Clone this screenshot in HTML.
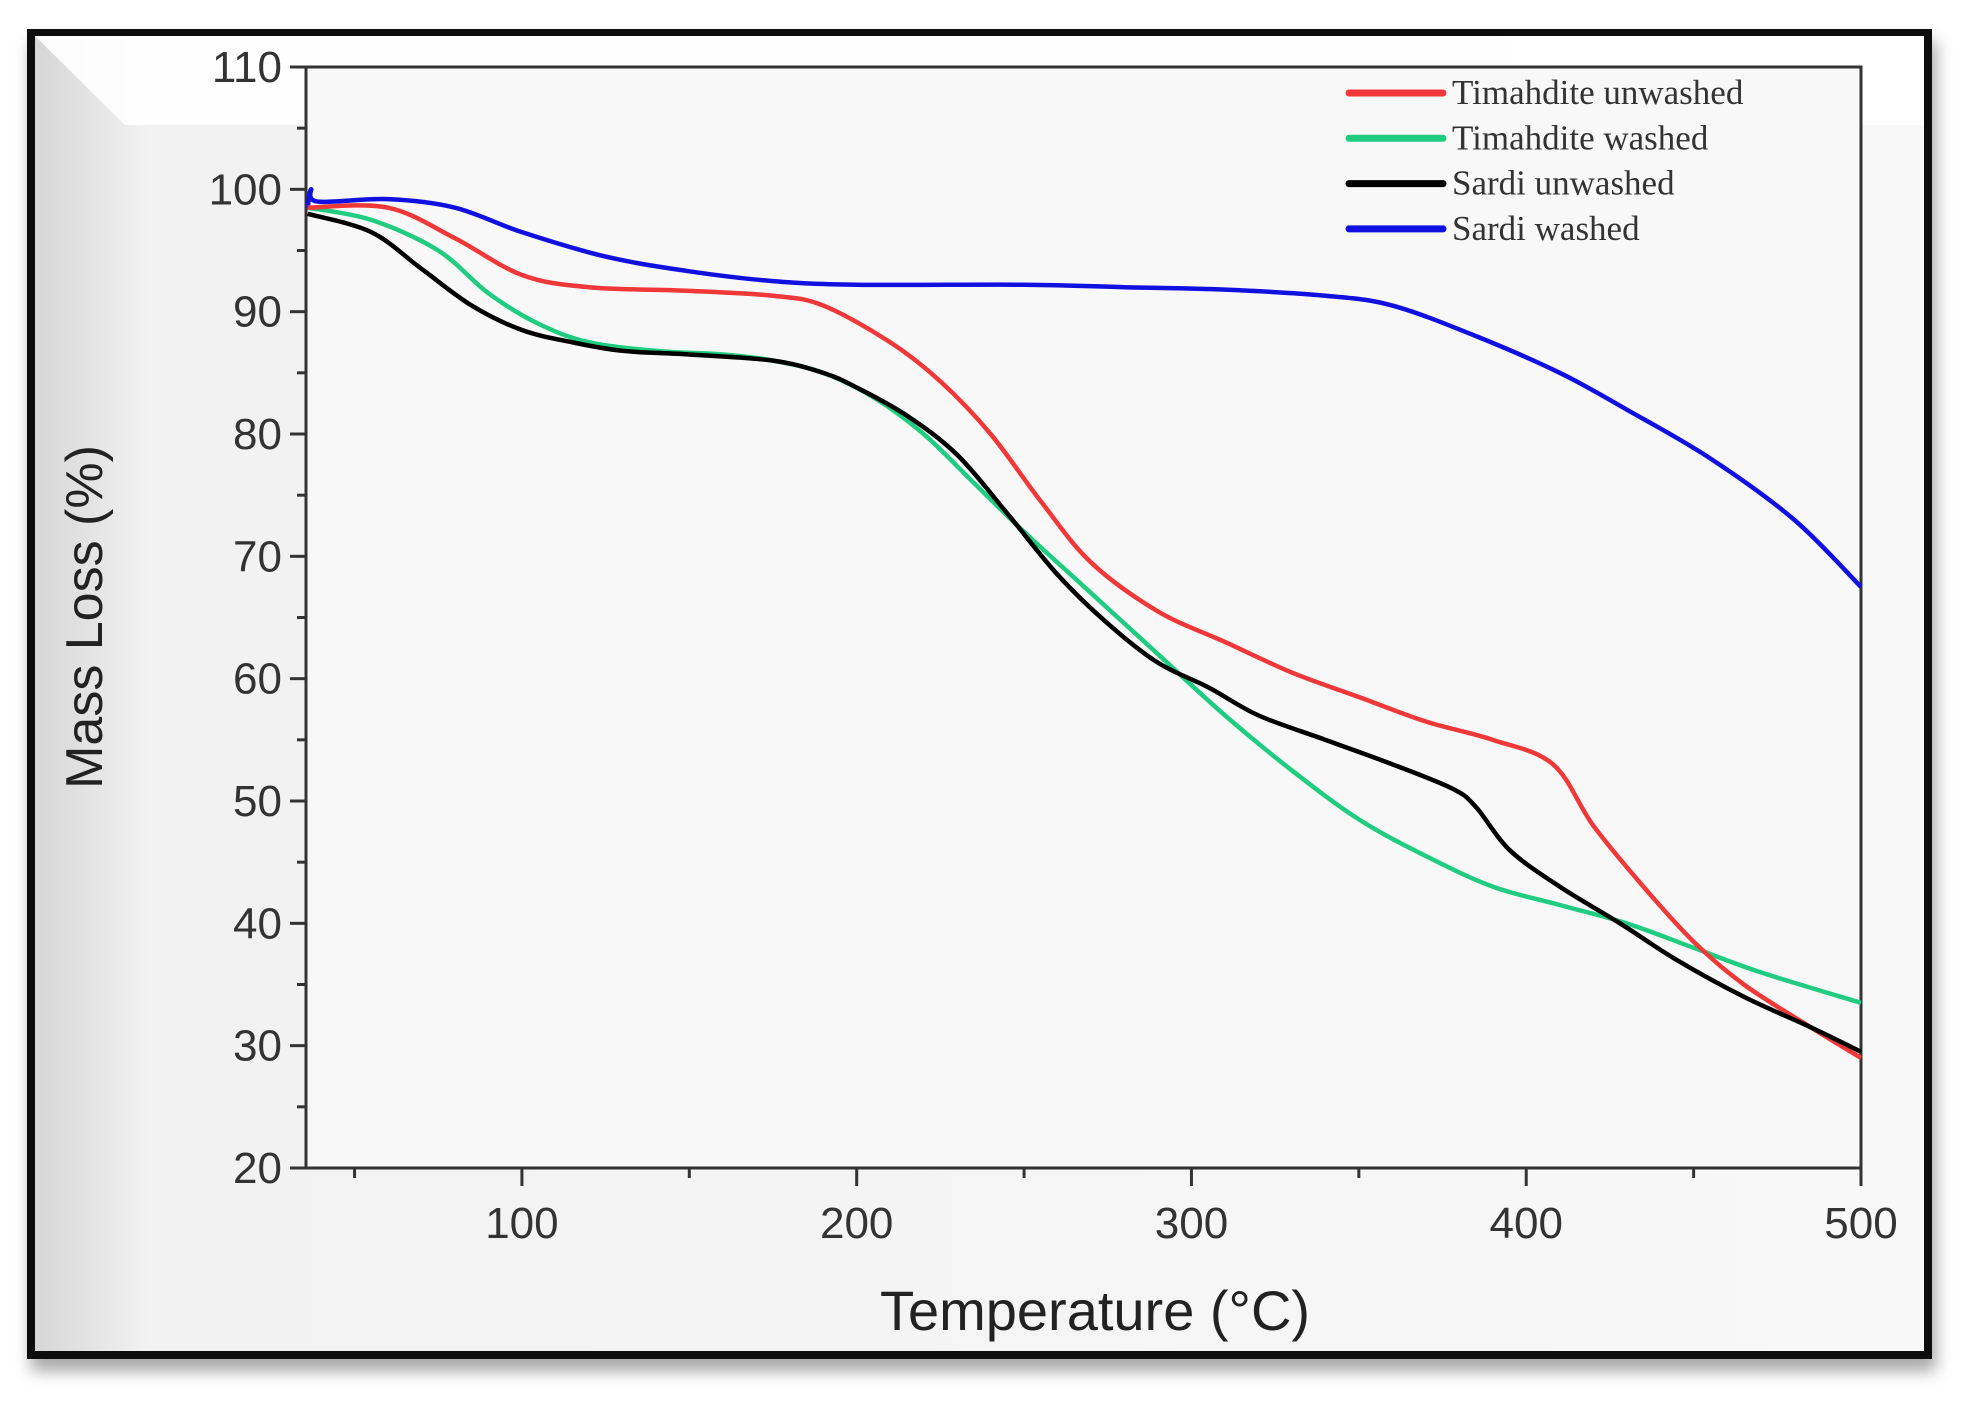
<!DOCTYPE html>
<html><head><meta charset="utf-8"><style>
html,body{margin:0;padding:0;background:#fff;}
body{width:1961px;height:1401px;overflow:hidden;position:relative;}
</style></head><body>
<svg width="1961" height="1401" viewBox="0 0 1961 1401" xmlns="http://www.w3.org/2000/svg">
<defs>
<linearGradient id="lg" x1="0" y1="0" x2="1" y2="0"><stop offset="0" stop-color="#d6d6d6"/><stop offset="0.06" stop-color="#f2f2f2"/><stop offset="1" stop-color="#f8f8f8"/></linearGradient>
<filter id="sh" x="-5%" y="-5%" width="110%" height="115%"><feDropShadow dx="4" dy="12" stdDeviation="8" flood-color="#000" flood-opacity="0.35"/></filter>
</defs>
<rect x="27" y="29" width="1905" height="1330" fill="#111" filter="url(#sh)"/>
<rect x="35" y="36" width="1889" height="1315" fill="url(#lg)"/>
<polygon points="35,36 1924,36 1924,125 125,125" fill="#ffffff" opacity="0.9"/>
<rect x="306" y="67" width="1555" height="1101" fill="#f8f8f8"/>
<g id="axes"></g>
<g id="series"></g>
<text x="1095" y="1330" font-family="Liberation Sans, sans-serif" font-size="56" fill="#222" text-anchor="middle">Temperature (°C)</text>
<text transform="translate(102,617) rotate(-90)" font-family="Liberation Sans, sans-serif" font-size="52" fill="#222" text-anchor="middle">Mass Loss (%)</text>
<g id="legend"></g>
</svg>
<script>
const names = ["Timahdite unwashed","Timahdite washed","Sardi unwashed","Sardi washed"];
const colors = ["#f03838","#1fcc80","#000000","#1010e0"];
const tempsRed = [36,60,80,100,120,150,175,190,210,225,240,255,270,290,310,330,350,370,390,408,420,435,450,465,485,500];
const massRed  = [98.5,98.5,96,93,92,91.7,91.3,90.5,87.5,84.3,80,74.5,69.5,65.5,63,60.5,58.5,56.5,55,53,48,43,38.5,35,31.5,29];
const tempsGreen = [36,55,75,90,105,120,140,160,175,190,205,220,235,250,270,290,310,330,350,370,390,410,430,450,470,500];
const massGreen  = [98.5,97.5,95,91.5,89,87.5,86.8,86.5,86,85,83,80,76,72,67,62,57,52.5,48.5,45.5,43,41.5,40,38,36,33.5];
const tempsBlack = [36,55,70,85,100,115,130,150,175,190,200,215,230,245,260,275,290,305,320,340,360,378,385,395,410,428,445,465,485,500];
const massBlack  = [98,96.5,93.5,90.5,88.5,87.5,86.8,86.5,86,85,83.8,81.5,78.3,73.5,68.5,64.5,61.3,59.3,57,55,53,51,49.5,46,43,40,37,34,31.5,29.5];
const tempsBlue = [36,37,39,60,80,100,125,150,175,200,250,280,310,340,360,385,410,430,455,480,500];
const massBlue  = [98.5,100,99,99.2,98.5,96.5,94.5,93.3,92.5,92.2,92.2,92,91.8,91.3,90.5,88,85,82,78,73,67.5];
const xTicks = [100,200,300,400,500];
const yTicks = [20,30,40,50,60,70,80,90,100,110];
const X0=306,X1=1861,Y0=1168,Y1=67,TMIN=35.5,TMAX=500,VMIN=20,VMAX=110;
const sx=t=>X0+(t-TMIN)/(TMAX-TMIN)*(X1-X0);
const sy=v=>Y0-(v-VMIN)/(VMAX-VMIN)*(Y0-Y1);
const NS="http://www.w3.org/2000/svg";
function mk(tag,attrs,parent){const e=document.createElementNS(NS,tag);for(const k in attrs)e.setAttribute(k,attrs[k]);parent.appendChild(e);return e;}
const ax=document.getElementById('axes');
let a=mk('path',{d:`M${X0},${Y1}H${X1}V${Y0}H${X0}Z`,fill:'none',stroke:'#333','stroke-width':3},ax);


yTicks.forEach(v=>{const y=sy(v);mk('line',{x1:X0-16,x2:X0,y1:y,y2:y,stroke:'#333','stroke-width':3},ax);
 const t=mk('text',{x:X0-24,y:y+15,'font-family':'Liberation Sans, sans-serif','font-size':44,fill:'#333','text-anchor':'end'},ax);t.textContent=v;
 
 
 if(v<110){const m=sy(v+5);mk('line',{x1:X0-9,x2:X0,y1:m,y2:m,stroke:'#333','stroke-width':3},ax);}});
xTicks.forEach(v=>{const x=sx(v);mk('line',{x1:x,x2:x,y1:Y0,y2:Y0+18,stroke:'#333','stroke-width':3},ax);
 const t=mk('text',{x:x,y:Y0+70,'font-family':'Liberation Sans, sans-serif','font-size':44,fill:'#333','text-anchor':'middle'},ax);t.textContent=v;
 
 
 const m=sx(v-50);if(m>X0)mk('line',{x1:m,x2:m,y1:Y0,y2:Y0+10,stroke:'#333','stroke-width':3},ax);});
function smooth(xs,ys){const p=xs.map((t,i)=>[sx(t),sy(ys[i])]);let d=`M${p[0][0]},${p[0][1]}`;
 for(let i=0;i<p.length-1;i++){const p0=p[i-1]||p[i],p1=p[i],p2=p[i+1],p3=p[i+2]||p2;
 d+=`C${p1[0]+(p2[0]-p0[0])/6},${p1[1]+(p2[1]-p0[1])/6} ${p2[0]-(p3[0]-p1[0])/6},${p2[1]-(p3[1]-p1[1])/6} ${p2[0]},${p2[1]}`;}return d;}
const sg=document.getElementById('series');
const data=[[tempsBlue,massBlue,3],[tempsGreen,massGreen,1],[tempsRed,massRed,0],[tempsBlack,massBlack,2]];
data.forEach(([xs,ys,ci])=>{const p=mk('path',{d:smooth(xs,ys),fill:'none',stroke:colors[ci],'stroke-width':4.5,'stroke-linejoin':'round'},sg);
 
 });
const lg=document.getElementById('legend');
names.forEach((n,i)=>{const y=93+i*45.3;
 const l=mk('line',{x1:1349,x2:1443,y1:y,y2:y,stroke:colors[i],'stroke-width':7,'stroke-linecap':'round'},lg);
 
 
 const t=mk('text',{x:1452,y:y+11,'font-family':'Liberation Serif, serif','font-size':35,fill:'#333'},lg);t.textContent=n;
 
 });
</script>
</body></html>
